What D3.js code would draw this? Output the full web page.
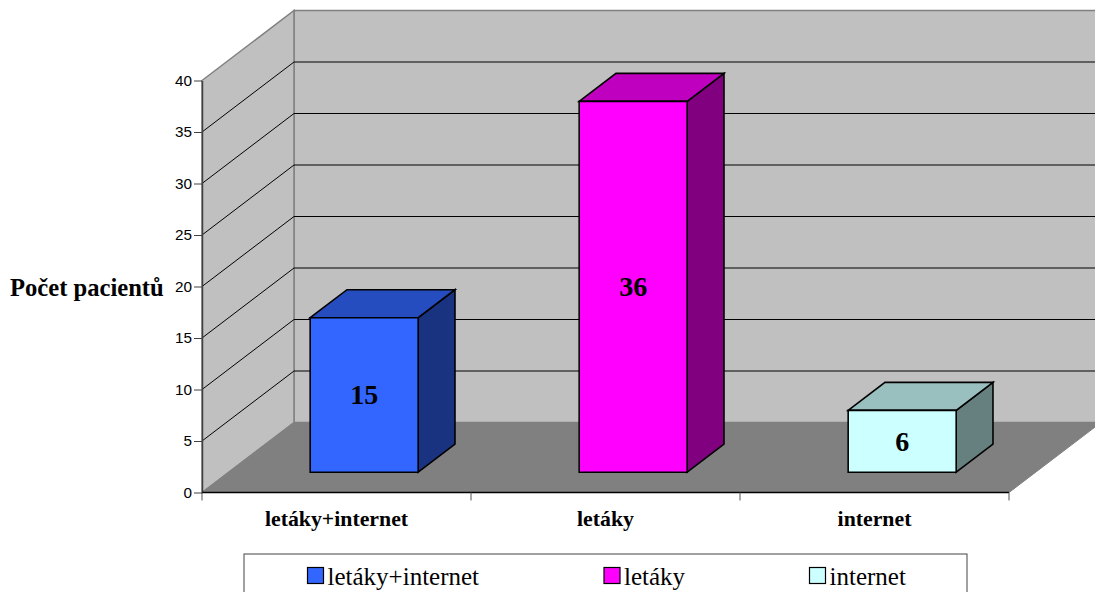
<!DOCTYPE html>
<html>
<head>
<meta charset="utf-8">
<script src="https://cdn.jsdelivr.net/npm/d3@7"></script>
<style>
html,body{margin:0;padding:0;background:#fff;overflow:hidden}
svg{display:block}
text{font-family:"Liberation Serif",serif;fill:#000}
</style>
</head>
<body>
<svg id="chart" width="1095" height="592"></svg>
<script>
const categories = ["letáky+internet", "letáky", "internet"];
const patients = [15, 36, 6];
const frontColors = ["#3366ff", "#ff00ff", "#ccffff"];
const topColors = ["#264dbf", "#bf00bf", "#99bfbf"];
const sideColors = ["#1a3380", "#800080", "#668080"];
const yTicks = [0, 5, 10, 15, 20, 25, 30, 35, 40];
const yTitle = "Počet pacientů";

const svg = d3.select("#chart");
const x = d3.scaleBand().domain(categories).range([202, 1009]);
const y = d3.scaleLinear().domain([0, 40]).range([492.5, 80.5]);

// Oblique projection: depth 0 is the front edge of the floor, depth 1 the back wall
const depth = d3.scaleLinear().domain([0, 1]).range([0, 92]);
const rise = d3.scaleLinear().domain([0, 1]).range([0, 70]);
const project = (px, py, d) => [px + depth(d), py - rise(d)];
const poly = pts => pts.map(p => p.join(",")).join(" ");

const x0 = x.range()[0], x1 = x.range()[1];
const yBase = y(0), yTop = y(40);
const wallGrey = "#c0c0c0", floorGrey = "#808080";

// Back wall, side wall and floor
svg.append("polygon")
  .attr("points", poly([project(x0, yTop, 1), project(x1, yTop, 1), project(x1, yBase, 1), project(x0, yBase, 1)]))
  .attr("fill", wallGrey).attr("stroke", floorGrey).attr("stroke-width", 1.5);
svg.append("polygon")
  .attr("points", poly([[x0, yTop], project(x0, yTop, 1), project(x0, yBase, 1), [x0, yBase]]))
  .attr("fill", wallGrey).attr("stroke", floorGrey).attr("stroke-width", 1.5);

// Gridlines run along the side wall and across the back wall
const gridValues = yTicks.filter(t => t > 0 && t < 40);
svg.append("g").selectAll("path").data(gridValues).join("path")
  .attr("d", t => {
    const a = project(x0, y(t), 1), b = project(x1, y(t), 1);
    return `M${x0},${y(t)}L${a[0]},${a[1]}L${b[0]},${b[1]}`;
  })
  .attr("fill", "none").attr("stroke", "#000").attr("stroke-width", 1);

svg.append("polygon")
  .attr("points", poly([[x0, yBase], project(x0, yBase, 1), project(x1, yBase, 1), [x1, yBase]]))
  .attr("fill", floorGrey).attr("stroke", floorGrey).attr("stroke-width", 1);

// Value axis
const yAxis = svg.append("g").attr("transform", `translate(${x0},0)`)
  .call(d3.axisLeft(y).tickValues(yTicks).tickSize(8).tickPadding(2).tickSizeOuter(0));
yAxis.select(".domain").attr("stroke", "#404040").attr("stroke-width", 1.5);
yAxis.selectAll(".tick line").attr("stroke", "#404040");
yAxis.selectAll("text").style("font-family", '"Liberation Sans",sans-serif').style("font-size", "15.3px").attr("fill", "#000");

// Category axis with ticks at the band boundaries
const xBoundaries = [...categories.map(c => x(c)), x1];
svg.append("line").attr("x1", x0).attr("x2", x1).attr("y1", yBase).attr("y2", yBase)
  .attr("stroke", "#000").attr("stroke-width", 1.5);
svg.append("g").selectAll("line").data(xBoundaries).join("line")
  .attr("x1", d => d).attr("x2", d => d).attr("y1", yBase).attr("y2", yBase + 8)
  .attr("stroke", "#555").attr("stroke-width", 1);
svg.append("g").selectAll("text").data(categories).join("text")
  .attr("x", c => x(c) + x.bandwidth() / 2).attr("y", 525.5)
  .attr("text-anchor", "middle").attr("font-weight", "bold").attr("font-size", 21.8)
  .text(c => c);

// Bars: sit 0.29 of the way back on the floor and reach 0.4 of the depth
const barWidth = 108, barFront = 0.29, barDepth = 0.4, barNudge = 1;
const heightOf = d3.scaleLinear().domain([0, 40]).range([0, y(0) - y(40)]);
const bars = svg.append("g").selectAll("g").data(categories).join("g");

const corners = (c, i) => {
  const left = x(c) + x.bandwidth() / 2 - barWidth / 2 + barNudge;
  const right = left + barWidth;
  const h = heightOf(patients[i]);
  const f = d => ({
    bl: project(left, yBase, d), br: project(right, yBase, d),
    tl: project(left, yBase - h, d), tr: project(right, yBase - h, d)
  });
  return { n: f(barFront), b: f(barFront + barDepth) };
};
const barStroke = el => el.attr("stroke", "#000").attr("stroke-width", 1.6).attr("stroke-linejoin", "miter");

barStroke(bars.append("polygon")
  .attr("points", (c, i) => { const k = corners(c, i); return poly([k.n.br, k.b.br, k.b.tr, k.n.tr]); })
  .attr("fill", (c, i) => sideColors[i]));
barStroke(bars.append("polygon")
  .attr("points", (c, i) => { const k = corners(c, i); return poly([k.n.tl, k.b.tl, k.b.tr, k.n.tr]); })
  .attr("fill", (c, i) => topColors[i]));
barStroke(bars.append("polygon")
  .attr("points", (c, i) => { const k = corners(c, i); return poly([k.n.bl, k.n.br, k.n.tr, k.n.tl]); })
  .attr("fill", (c, i) => frontColors[i]));

// Value labels centred on each front face
bars.append("text")
  .attr("x", (c, i) => { const k = corners(c, i); return (k.n.bl[0] + k.n.br[0]) / 2; })
  .attr("y", (c, i) => { const k = corners(c, i); return (k.n.bl[1] + k.n.tl[1]) / 2 + 9.5; })
  .attr("text-anchor", "middle").attr("font-weight", "bold").attr("font-size", 28)
  .text((c, i) => patients[i]);

// Axis title
svg.append("text").attr("x", 10).attr("y", 296)
  .attr("font-weight", "bold").attr("font-size", 24.6).text(yTitle);

// Legend
svg.append("rect").attr("x", 244).attr("y", 554).attr("width", 723).attr("height", 50)
  .attr("fill", "#fff").attr("stroke", "#444").attr("stroke-width", 1);
const legendX = [307.5, 604, 809.5];
const legend = svg.append("g").selectAll("g").data(categories).join("g")
  .attr("transform", (c, i) => `translate(${legendX[i]},567.5)`);
legend.append("rect").attr("width", 16).attr("height", 16)
  .attr("fill", (c, i) => frontColors[i]).attr("stroke", "#000").attr("stroke-width", 1.2);
legend.append("text").attr("x", 20).attr("y", 17).attr("font-size", 25).text(c => c);
</script>
</body>
</html>
